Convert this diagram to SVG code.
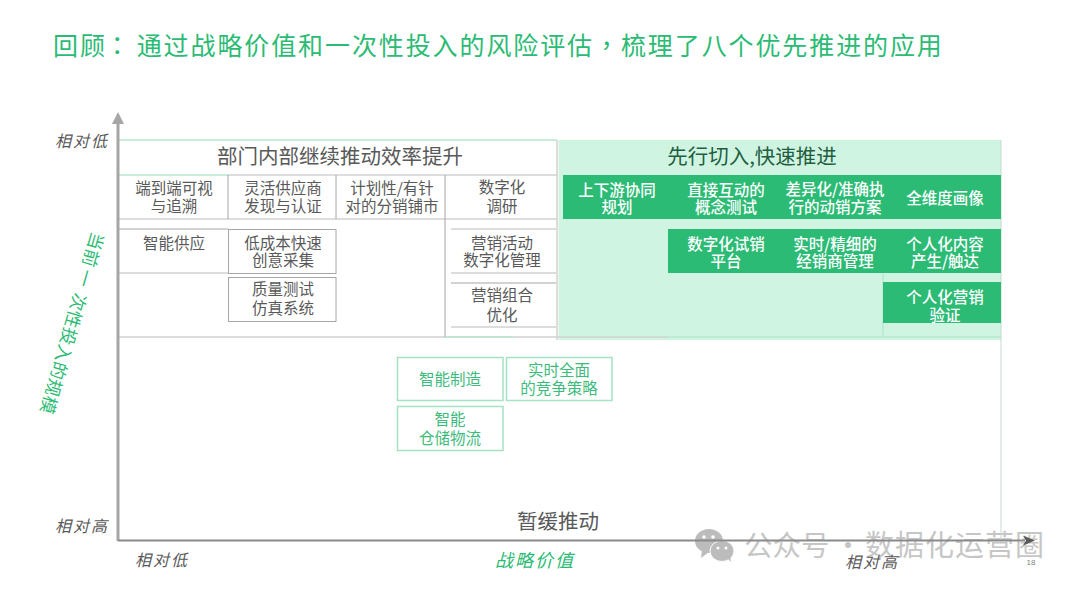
<svg xmlns="http://www.w3.org/2000/svg" width="1080" height="589" viewBox="0 0 1080 589">
<style>
text{font-family:"Noto Sans CJK SC","Liberation Sans",sans-serif;text-anchor:middle}
.t{font-size:15.500px;fill:#595959}
.w{font-size:15.500px;fill:#fff;font-weight:500}
.g{font-size:15.500px;fill:#3dbb7c}
.h{font-size:20.500px;fill:#595959}
.a{font-size:16px;font-style:italic;fill:#595959;letter-spacing:2px}
.l{stroke:#d2d2d2;stroke-width:1.5;fill:none}
.d{stroke:#a6a6a6;stroke-width:1;fill:none}
.lg{stroke:#b8e8d0;stroke-width:1.5;fill:none}
.gb{fill:#fff;stroke:#a5e3c4;stroke-width:1.5}
.f{fill:#2bbb74}
</style>
<defs>
<marker id="ah" markerWidth="12" markerHeight="10" refX="2" refY="5" orient="auto" markerUnits="userSpaceOnUse"><path d="M0 0L12 5L0 10L3 5Z" fill="#595959"/></marker>
</defs>
<text id="title" x="53" y="55" style="text-anchor:start;font-size:25px;letter-spacing:1.900px;fill:#2bbb74">回顾<tspan dx="-2" style="font-family:'Noto Sans CJK TC',sans-serif">：</tspan><tspan dx="5">通过战略价值和一次性投入的风险评估</tspan><tspan style="font-family:'Noto Sans CJK TC',sans-serif">，</tspan>梳理了八个优先推进的应用</text>

<rect id="panel" x="558.500" y="140" width="442.500" height="200" fill="#cff4e2"/>

<g id="watermark" opacity="0.75">
<ellipse cx="709" cy="541" rx="14" ry="12" fill="#a6a6a6"/>
<ellipse cx="722" cy="551" rx="12" ry="10.500" fill="#a6a6a6" stroke="#fff"/>
<path d="M702 550L701 558L709 552Z" fill="#a6a6a6"/>
<path d="M727 558L731 562L730 555Z" fill="#a6a6a6"/>
<circle cx="704" cy="537" r="1.800" fill="#fff"/><circle cx="713" cy="537" r="1.800" fill="#fff"/>
<circle cx="718" cy="548" r="1.500" fill="#fff"/><circle cx="726" cy="548" r="1.500" fill="#fff"/>
<text x="744" y="556" style="text-anchor:start;font-size:28.500px;fill:#b4b4b4">公众号</text>
<text x="848" y="556" style="font-size:28.500px;fill:#b4b4b4">·</text>
<text x="865" y="556" style="text-anchor:start;font-size:29px;fill:#b4b4b4;letter-spacing:1px">数据化运营圈</text>
</g>

<g id="connectors">
<path class="lg" d="M118 140H557M118 175H228"/>
<path class="l" d="M557 140V340M228 175H557M118 219H557M118 273H228M118 337H668"/>
<path class="d" d="M118 229H228M228 175V219M336 175V219M445 175V337"/>
<path class="l" d="M451 229H556M451 273H556M451 327H556"/>
<path class="d" d="M451 283H556"/>
<path class="lg" d="M445 337H513M883 273V337M668 337H1001"/>
<path d="M1001 140V541" stroke="#c8d8d0" stroke-width="1" fill="none"/>
<path d="M118 541V122" stroke="#a6a6a6" stroke-width="3" fill="none"/>
<path d="M112 124L118 112L124 124Z" fill="#a6a6a6"/>
<path d="M118 540.500H1025" stroke="#8a8a8a" stroke-width="2" fill="none" marker-end="url(#ah)"/>
</g>

<text x="340" y="164" class="h">部门内部继续推动效率提升</text>
<text x="752" y="164" class="h" style="fill:#1f5f40">先行切入,快速推进</text>

<g id="n1"><text x="174" y="194" class="t">端到端可视</text><text x="174" y="212" class="t">与追溯</text></g>
<g id="n2"><text x="283" y="194" class="t">灵活供应商</text><text x="283" y="212" class="t">发现与认证</text></g>
<g id="n3"><text x="392" y="194" class="t">计划性/有针</text><text x="392" y="212" class="t">对的分销铺市</text></g>
<g id="n4"><text x="502" y="193" class="t">数字化</text><text x="502" y="212" class="t">调研</text></g>
<g id="n5"><text x="174" y="249" class="t">智能供应</text></g>
<g id="n6"><rect x="228.500" y="229.500" width="107.500" height="44" class="d"/><text x="283" y="249" class="t">低成本快速</text><text x="283" y="266" class="t">创意采集</text></g>
<g id="n7"><rect x="228.500" y="277.500" width="107.500" height="44" class="d"/><text x="283" y="295" class="t">质量测试</text><text x="283" y="314" class="t">仿真系统</text></g>
<g id="n8"><text x="502" y="249" class="t">营销活动</text><text x="502" y="266" class="t">数字化管理</text></g>
<g id="n9"><text x="502" y="301" class="t">营销组合</text><text x="502" y="321" class="t">优化</text></g>

<g id="n10"><rect x="563" y="175" width="438" height="44" class="f"/><text x="617" y="196" class="w">上下游协同</text><text x="617" y="213" class="w">规划</text></g>
<g id="n11"><text x="726" y="196" class="w">直接互动的</text><text x="726" y="213" class="w">概念测试</text></g>
<g id="n12"><text x="835" y="195" class="w">差异化/准确执</text><text x="835" y="213" class="w">行的动销方案</text></g>
<g id="n13"><text x="945" y="204" class="w">全维度画像</text></g>
<g id="n14"><rect x="668" y="229" width="333" height="44" class="f"/><text x="726" y="250" class="w">数字化试销</text><text x="726" y="267" class="w">平台</text></g>
<g id="n15"><text x="835" y="250" class="w">实时/精细的</text><text x="835" y="267" class="w">经销商管理</text></g>
<g id="n16"><text x="945" y="250" class="w">个人化内容</text><text x="945" y="267" class="w">产生/触达</text></g>
<g id="n17"><rect x="883" y="282" width="118" height="41" class="f"/><text x="945" y="303" class="w">个人化营销</text><text x="945" y="321" class="w">验证</text></g>

<g id="n18"><rect x="397.500" y="357.500" width="105.500" height="43" class="gb"/><text x="450" y="385" class="g">智能制造</text></g>
<g id="n19"><rect x="506.500" y="357.500" width="105.500" height="43" class="gb"/><text x="559" y="376" class="g">实时全面</text><text x="559" y="394" class="g">的竞争策略</text></g>
<g id="n20"><rect x="397.500" y="406.500" width="105.500" height="44" class="gb"/><text x="450" y="425" class="g">智能</text><text x="450" y="444" class="g">仓储物流</text></g>

<text x="558" y="529" class="h">暂缓推动</text>
<text x="82" y="147" class="a">相对低</text>
<text x="82" y="532" class="a">相对高</text>
<text x="162" y="566" class="a">相对低</text>
<text x="872" y="568" class="a">相对高</text>
<text x="535" y="567" style="font-size:18px;font-style:italic;fill:#2bbb74;letter-spacing:2px">战略价值</text>
<text transform="translate(92 231) rotate(106)" style="text-anchor:start;font-size:17.500px;fill:#2bbb74;letter-spacing:.3px">当前<tspan dx="3">一</tspan><tspan dx="7">次性投入的规模</tspan></text>

<text x="1031" y="565" style="font-size:8px;fill:#7f7f7f;font-family:'Liberation Sans',sans-serif">18</text>
</svg>
